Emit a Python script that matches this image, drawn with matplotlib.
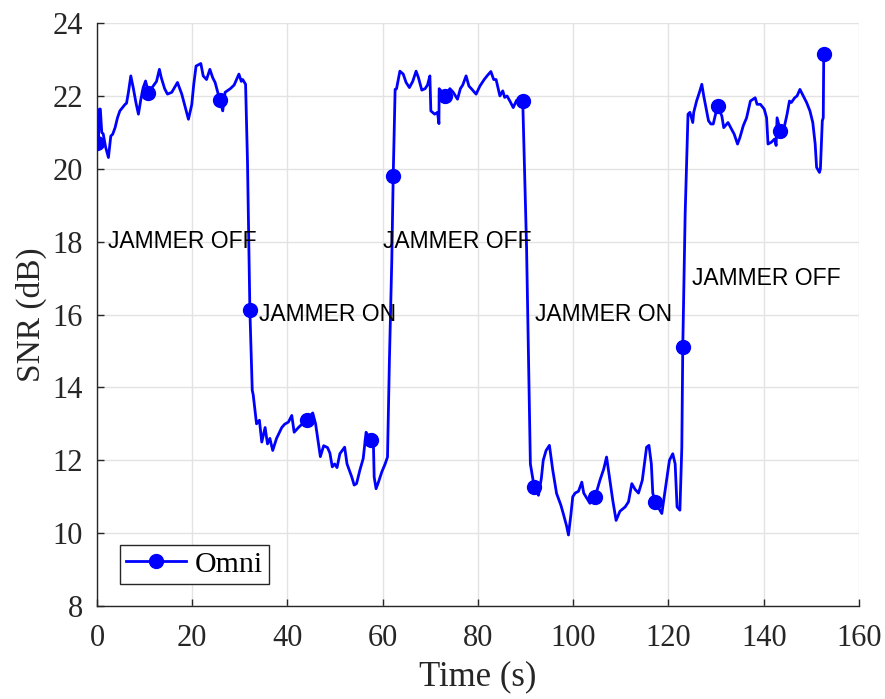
import matplotlib
matplotlib.use("Agg")
import matplotlib.pyplot as plt

time_s = [0.0, 0.3, 0.5, 0.7, 1.0, 1.3, 1.8, 2.4, 2.9, 3.3, 3.8, 4.3, 4.8, 5.9, 6.2, 6.6, 7.1, 7.6, 8.2, 8.7,
          9.2, 9.7, 10.2, 10.8, 11.8, 12.5, 13.1, 13.5, 14.2, 14.8, 15.7, 16.9, 17.8, 18.5, 19.2, 19.9, 20.3, 20.8,
          21.8, 22.3, 23.0, 23.7, 24.3, 24.8, 25.8, 26.4, 26.9, 28.0, 28.8, 29.8, 30.3, 30.6, 31.2, 31.6, 32.1,
          32.6, 32.8, 33.5, 34.1, 34.6, 35.3, 35.8, 36.3, 36.9, 37.7, 38.8, 39.4, 40.2, 40.9, 41.4, 42.3, 44.0,
          45.3, 45.9, 46.9, 47.6, 48.4, 48.9, 49.4, 49.9, 50.4, 51.0, 52.0, 52.5, 53.5, 54.0, 54.5, 55.2, 55.9,
          56.5, 57.5, 58.0, 58.2, 58.6, 59.1, 59.8, 60.5, 61.0, 61.4, 61.9, 62.2, 62.6, 62.9, 63.6, 64.3, 64.9,
          65.6, 66.3, 67.0, 67.5, 68.2, 68.9, 69.4, 69.9, 70.1, 70.9, 71.5, 71.8, 71.85, 73.1, 74.1, 74.8, 75.7,
          76.3, 76.8, 77.5, 78.1, 78.6, 79.6, 80.4, 81.3, 81.9, 82.7, 83.3, 83.8, 84.6, 85.2, 85.6, 86.1, 86.7,
          87.4, 88.1, 89.4, 90.2, 91.0, 91.8, 92.7, 93.3, 93.7, 94.3, 95.0, 95.7, 96.5, 97.4, 97.9, 98.6, 99.0,
          99.5, 99.9, 100.4, 101.1, 101.8, 102.2, 102.9, 103.5, 104.6, 105.6, 106.4, 107.0, 107.6, 108.3, 109.0,
          109.8, 110.9, 111.6, 112.3, 113.0, 113.7, 114.5, 115.4, 115.9, 116.4, 116.7, 117.2, 117.8, 118.6,
          119.3, 120.2, 120.9, 121.4, 121.8, 122.4, 122.8, 123.0, 123.5, 124.1, 124.5, 125.1, 125.3, 125.9,
          126.5, 127.0, 127.4, 128.0, 128.4, 128.9, 129.4, 130.3, 131.2, 131.6, 132.5, 133.2, 133.8, 134.5,
          135.0, 135.7, 136.4, 137.2, 138.2, 138.6, 139.3, 140.1, 140.6, 140.9, 141.6, 142.3, 142.6, 142.8,
          143.5, 144.4, 144.9, 145.4, 145.8, 146.5, 147.0, 147.6, 148.1, 149.0, 149.7, 150.3, 150.8, 151.1,
          151.7, 151.9, 152.3, 152.5, 152.6]
snr_db = [20.72, 20.75, 21.64, 21.64, 21.0, 20.96, 20.6, 20.31, 20.9, 20.95, 21.13, 21.4, 21.59, 21.77, 21.8,
          22.1, 22.55, 22.23, 21.8, 21.5, 21.9, 22.23, 22.41, 22.09, 22.27, 22.4, 22.73, 22.5, 22.2, 22.05, 22.1,
          22.37, 22.05, 21.7, 21.36, 21.76, 22.3, 22.82, 22.89, 22.55, 22.45, 22.73, 22.5, 22.37, 21.88, 21.59,
          22.1, 22.2, 22.3, 22.6, 22.4, 22.45, 22.32, 20.2, 16.13, 13.92, 13.8, 13.0, 13.1, 12.5, 12.9, 12.45,
          12.6, 12.27, 12.6, 12.9, 12.99, 13.05, 13.23, 12.77, 12.9, 13.11, 13.3, 13.0, 12.1, 12.4, 12.35, 12.2,
          11.82, 11.9, 11.8, 12.18, 12.36, 11.9, 11.54, 11.32, 11.36, 11.73, 12.05, 12.77, 12.55, 12.7, 11.54,
          11.22, 11.4, 11.68, 11.9, 12.09, 14.74, 17.48, 19.81, 22.18, 22.2, 22.68, 22.6, 22.37, 22.23, 22.4,
          22.68, 22.5, 22.16, 22.2, 22.3, 22.55, 21.59, 21.5, 21.55, 21.24, 22.2, 22.0, 22.2, 22.1, 21.91, 22.2,
          22.3, 22.55, 22.27, 22.2, 22.05, 22.27, 22.45, 22.55, 22.67, 22.45, 22.45, 22.0, 22.14, 21.96, 22.0,
          21.86, 21.68, 21.88, 21.86, 17.84, 11.9, 11.27, 11.04, 11.5, 12.0, 12.27, 12.41, 11.73, 11.09, 10.77,
          10.54, 10.2, 9.95, 10.5, 11.0, 11.1, 11.15, 11.4, 11.1, 10.95, 10.82, 11.0, 11.45, 11.76, 12.09, 11.54,
          10.9, 10.35, 10.6, 10.72, 10.86, 11.36, 11.2, 11.1, 11.45, 12.36, 12.41, 11.9, 11.1, 10.86, 10.72,
          10.54, 11.18, 12.0, 12.18, 11.9, 10.72, 10.63, 12.36, 15.1, 18.76, 21.5, 21.55, 21.27, 21.55, 21.86,
          22.1, 22.32, 22.0, 21.59, 21.32, 21.23, 21.23, 21.73, 21.45, 21.13, 21.27, 21.1, 20.95, 20.68, 20.86,
          21.18, 21.4, 21.86, 21.95, 21.77, 21.77, 21.64, 21.4, 20.68, 20.73, 20.82, 20.64, 21.4, 21.04, 21.2,
          21.5, 21.86, 21.82, 21.95, 22.0, 22.18, 22.05, 21.82, 21.59, 21.27, 20.68, 20.04, 19.9, 20.0, 21.32,
          21.4, 23.14]

marker_times = [0.0, 10.8, 25.8, 32.1, 44.0, 57.5, 62.2, 73.1, 89.4, 91.8, 104.6, 117.2, 123.0, 130.3,
                143.5, 152.6]

label_texts = ["JAMMER OFF", "JAMMER ON", "JAMMER OFF", "JAMMER ON", "JAMMER OFF"]
label_x = [2.3, 34.0, 60.0, 92.0, 125.0]
label_y = [18.0, 16.0, 18.0, 16.0, 17.0]

x_ticks = [0, 20, 40, 60, 80, 100, 120, 140, 160]
y_ticks = [8, 10, 12, 14, 16, 18, 20, 22, 24]

serif = ["Liberation Serif", "DejaVu Serif"]
sans = ["Liberation Sans", "DejaVu Sans"]
dark = "#262626"

fig = plt.figure(figsize=(8.85, 6.99), dpi=100)
ax = fig.add_axes([0.1096, 0.133, 0.861, 0.834])

mark_idx = [time_s.index(t) for t in marker_times]
ax.plot(time_s, snr_db, color="#0000ff", lw=2.0, marker="o", markersize=10,
        markevery=mark_idx, label="Omni", zorder=3)

for txt, tx, ty in zip(label_texts, label_x, label_y):
    ax.text(tx, ty, txt, family=sans, fontsize=16.5, ha="left", va="center",
            color="black", zorder=4)

ax.set_xlim(0, 160)
ax.set_ylim(8, 24)
ax.set_xticks(x_ticks)
ax.set_yticks(y_ticks)
ax.grid(True, color="#e3e3e3", lw=1.0, zorder=0)
ax.set_axisbelow(True)

for s in ["top", "right"]:
    ax.spines[s].set_visible(False)
for s in ["left", "bottom"]:
    ax.spines[s].set_color(dark)
    ax.spines[s].set_linewidth(1.0)

ax.tick_params(direction="in", length=5, width=1.0, color=dark, labelcolor=dark,
               labelsize=22)
ax.tick_params(axis="x", pad=13)
ax.tick_params(axis="y", pad=10)
for lbl in ax.get_xticklabels() + ax.get_yticklabels():
    lbl.set_family(serif)

ax.set_xlabel("Time (s)", family=serif, fontsize=25, color=dark, labelpad=5)
ax.set_ylabel("SNR (dB)", family=serif, fontsize=24, color=dark, labelpad=4)

leg = ax.legend(loc="lower left", bbox_to_anchor=(0.03, 0.038), borderaxespad=0,
                prop={"family": serif, "size": 21.5}, fancybox=False, framealpha=1,
                edgecolor=dark, handlelength=2.0, handletextpad=0.3,
                borderpad=0.2)
leg.get_frame().set_linewidth(1.0)

fig.savefig("out.png", dpi=100)
